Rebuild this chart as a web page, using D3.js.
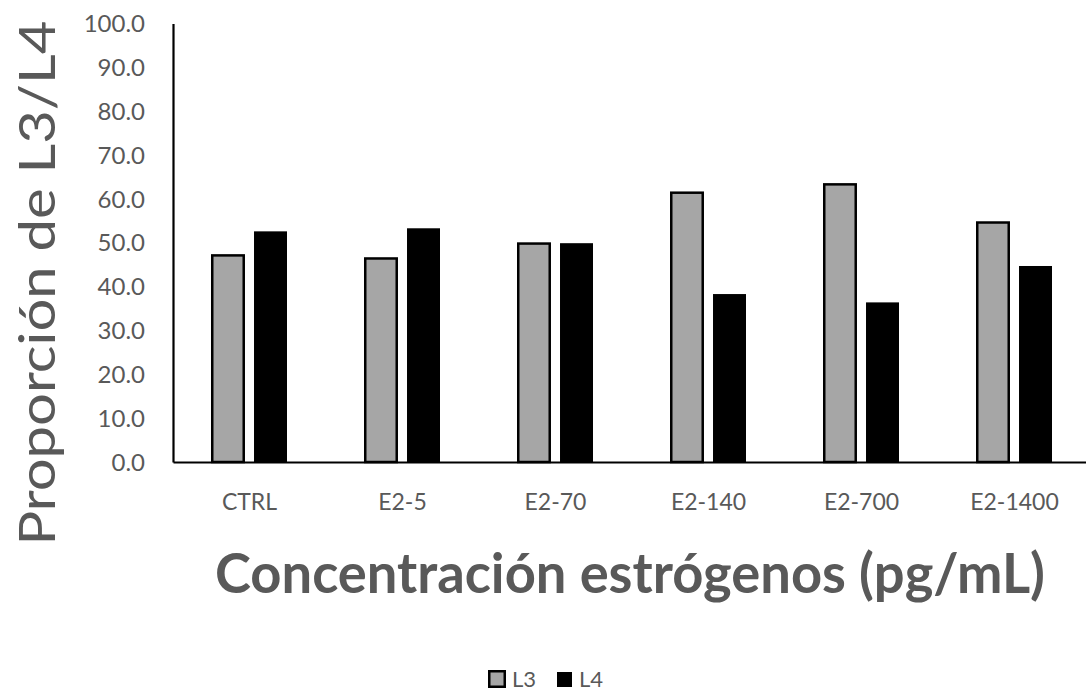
<!DOCTYPE html>
<html><head><meta charset="utf-8">
<script src="https://cdn.jsdelivr.net/npm/d3@7"></script>
<style>html,body{margin:0;padding:0;background:#fff;}svg{display:block;}</style>
</head><body>
<svg id="chart" width="1086" height="692"></svg>
<script>
const categories = ["CTRL","E2-5","E2-70","E2-140","E2-700","E2-1400"];
const seriesNames = ["L3","L4"];
const l3Values = [47.4, 46.7, 50.1, 61.7, 63.6, 54.9];
const l4Values = [52.6, 53.3, 49.9, 38.3, 36.4, 44.7];
const yTicks = [0,10,20,30,40,50,60,70,80,90,100];
const colors = {L3:"#a6a6a6", L4:"#000000"};

const svg = d3.select("#chart");
const textColor = "#595959";
const font = "Lato, 'Open Sans', sans-serif";

const x0 = d3.scaleBand().domain(categories).range([173, 1091]).padding(0);
const x1 = d3.scaleBand().domain(seriesNames).range([38, 115]).paddingInner(0.21);
const y = d3.scaleLinear().domain([0,100]).range([462, 23.5]);

const data = categories.map((c,i)=>({cat:c, L3:l3Values[i], L4:l4Values[i]}));

// bars
const g = svg.append("g");
const groups = g.selectAll("g.grp").data(data).join("g")
  .attr("transform", d=>`translate(${x0(d.cat)},0)`);
groups.selectAll("rect").data(d=>seriesNames.map(s=>({s, v:d[s]}))).join("rect")
  .attr("x", d=> d.s==="L3" ? x1(d.s)+1.25 : x1(d.s))
  .attr("width", d=> d.s==="L3" ? x1.bandwidth()-2.5 : x1.bandwidth()-1)
  .attr("y", d=> d.s==="L3" ? y(d.v)+1.25 : y(d.v))
  .attr("height", d=> d.s==="L3" ? y(0)-y(d.v)-1.25 : y(0)-y(d.v))
  .attr("fill", d=>colors[d.s])
  .attr("stroke", d=> d.s==="L3" ? "#000" : "none")
  .attr("stroke-width", 2.5);

// y axis
const yAxis = d3.axisLeft(y).tickValues(yTicks).tickFormat(d3.format(".1f")).tickSize(0).tickPadding(28);
const ya = svg.append("g").attr("transform","translate(173,0)").call(yAxis);
ya.select(".domain").attr("stroke","#000").attr("stroke-width",2.2);
ya.selectAll("text").attr("fill",textColor).attr("font-family",font).attr("font-size",24).attr("dy","0.34em");

// x axis
const xAxis = d3.axisBottom(x0).tickSize(0).tickPadding(32);
const xa = svg.append("g").attr("transform","translate(0,462)").call(xAxis);
xa.select(".domain").attr("stroke","#000").attr("stroke-width",2.2);
xa.selectAll("text").attr("fill",textColor).attr("font-family",font).attr("font-size",23);

// axis titles
svg.append("text").attr("x",630).attr("y",593).attr("text-anchor","middle")
  .attr("font-family",font).attr("font-weight","bold").attr("font-size",56)
  .attr("fill",textColor).attr("textLength",830).attr("lengthAdjust","spacingAndGlyphs")
  .text("Concentración estrógenos (pg/mL)");
svg.append("text").attr("transform","translate(55,283) rotate(-90)").attr("text-anchor","middle")
  .attr("font-family",font).attr("font-size",51)
  .attr("fill",textColor).attr("textLength",525).attr("lengthAdjust","spacingAndGlyphs")
  .text("Proporción de L3/L4");

// legend
const legend = svg.append("g");
legend.append("rect").attr("x",489.25).attr("y",671.25).attr("width",15.5).attr("height",15.5)
  .attr("fill",colors.L3).attr("stroke","#000").attr("stroke-width",2.5);
legend.append("text").attr("x",512).attr("y",687).attr("font-family",font)
  .attr("font-size",22).attr("fill",textColor).text(seriesNames[0]);
legend.append("rect").attr("x",557).attr("y",672).attr("width",15).attr("height",15)
  .attr("fill",colors.L4);
legend.append("text").attr("x",579).attr("y",687).attr("font-family",font)
  .attr("font-size",22).attr("fill",textColor).text(seriesNames[1]);
</script>
</body></html>
